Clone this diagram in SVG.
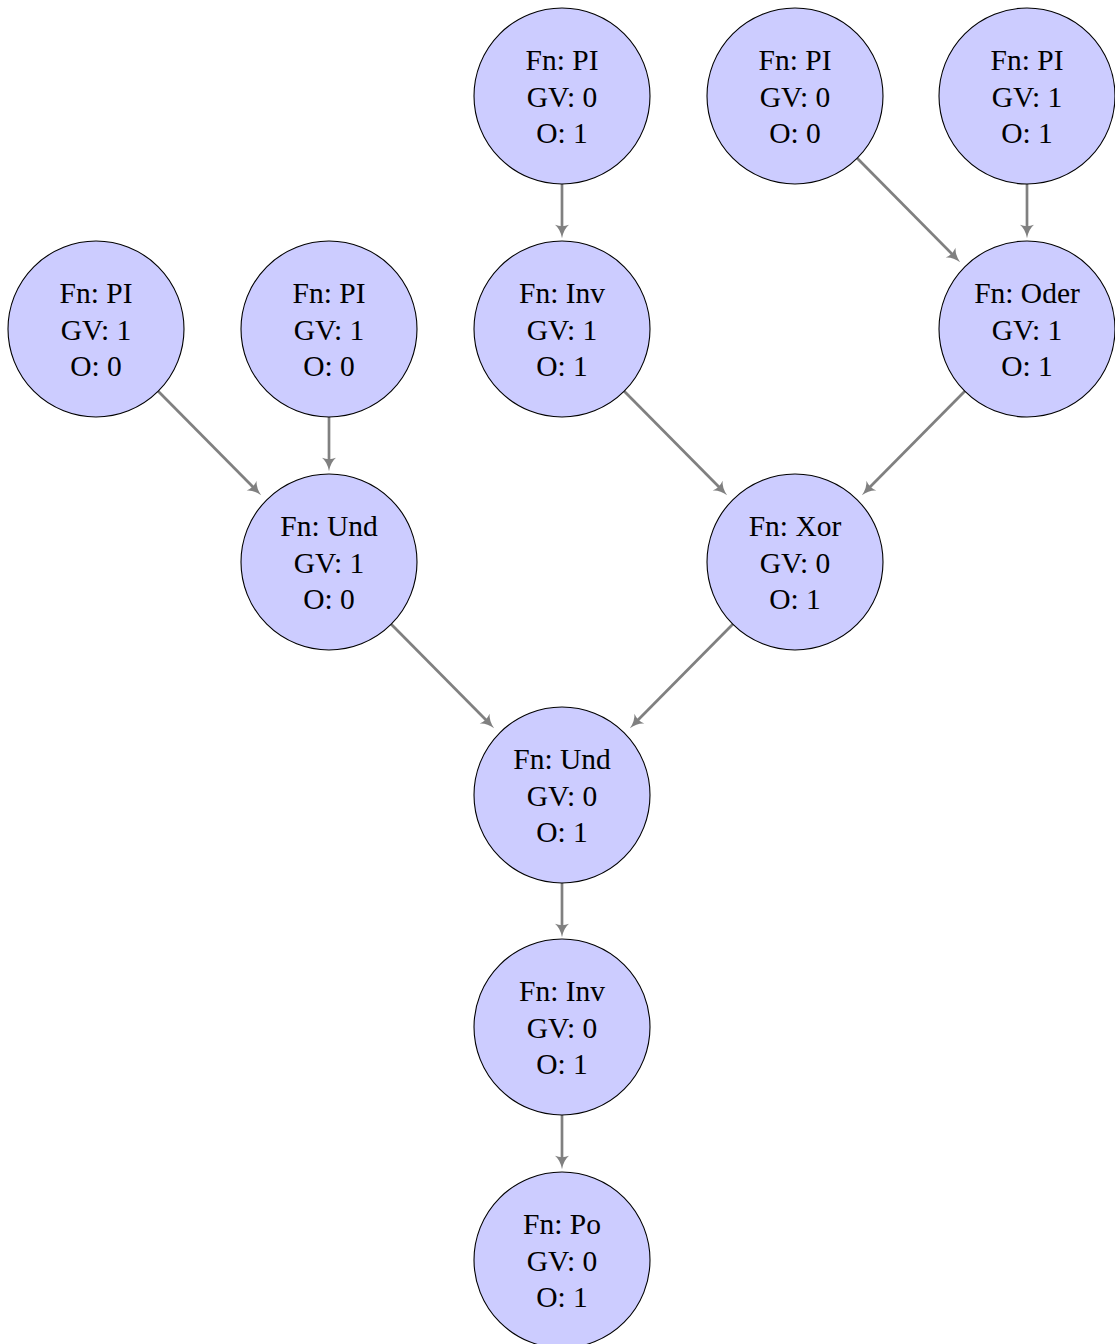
<svg xmlns="http://www.w3.org/2000/svg" width="1115" height="1344" viewBox="0 0 1115 1344">
  <style>
    .node circle { fill: #ccccff; stroke: #000000; stroke-width: 1.1; }
    .node text { font-family: "Liberation Serif", "DejaVu Serif", serif; font-size: 29.5px; fill: #000000; text-anchor: middle; }
    .edge { stroke: #808080; stroke-width: 2.7; fill: none; marker-end: url(#arrow); }
  </style>
  <defs>
    <marker id="arrow" markerUnits="userSpaceOnUse" markerWidth="18" markerHeight="18" viewBox="-2 -8 15 16" refX="5" refY="0" orient="auto">
      <path d="M-0.5,-6.2 Q3.5,-1.4 11.5,0 Q3.5,1.4 -0.5,6.2 Q2,0 -0.5,-6.2 Z" fill="#808080"/>
    </marker>
  </defs>

  <!-- connectors: each line stops where the arrow tip begins -->
  <g id="edges">
    <line class="edge" x1="562" y1="184" x2="562" y2="231"/>
    <line class="edge" x1="857" y1="158" x2="955" y2="257"/>
    <line class="edge" x1="1027" y1="184" x2="1027" y2="231"/>
    <line class="edge" x1="158" y1="391" x2="256" y2="490"/>
    <line class="edge" x1="329" y1="417" x2="329" y2="464"/>
    <line class="edge" x1="624" y1="391" x2="722" y2="490"/>
    <line class="edge" x1="965" y1="391" x2="867" y2="490"/>
    <line class="edge" x1="391" y1="624" x2="489" y2="723"/>
    <line class="edge" x1="733" y1="624" x2="635" y2="723"/>
    <line class="edge" x1="562" y1="883" x2="562" y2="930"/>
    <line class="edge" x1="562" y1="1115" x2="562" y2="1162"/>
  </g>

  <!-- row 0 -->
  <g id="pi-a" class="node">
    <circle cx="562" cy="96" r="88"/>
    <text x="562" y="70">Fn: PI</text><text x="562" y="107">GV: 0</text><text x="562" y="143">O: 1</text>
  </g>
  <g id="pi-b" class="node">
    <circle cx="795" cy="96" r="88"/>
    <text x="795" y="70">Fn: PI</text><text x="795" y="107">GV: 0</text><text x="795" y="143">O: 0</text>
  </g>
  <g id="pi-c" class="node">
    <circle cx="1027" cy="96" r="88"/>
    <text x="1027" y="70">Fn: PI</text><text x="1027" y="107">GV: 1</text><text x="1027" y="143">O: 1</text>
  </g>

  <!-- row 1 -->
  <g id="pi-d" class="node">
    <circle cx="96" cy="329" r="88"/>
    <text x="96" y="303">Fn: PI</text><text x="96" y="340">GV: 1</text><text x="96" y="376">O: 0</text>
  </g>
  <g id="pi-e" class="node">
    <circle cx="329" cy="329" r="88"/>
    <text x="329" y="303">Fn: PI</text><text x="329" y="340">GV: 1</text><text x="329" y="376">O: 0</text>
  </g>
  <g id="inv-a" class="node">
    <circle cx="562" cy="329" r="88"/>
    <text x="562" y="303">Fn: Inv</text><text x="562" y="340">GV: 1</text><text x="562" y="376">O: 1</text>
  </g>
  <g id="oder" class="node">
    <circle cx="1027" cy="329" r="88"/>
    <text x="1027" y="303">Fn: Oder</text><text x="1027" y="340">GV: 1</text><text x="1027" y="376">O: 1</text>
  </g>

  <!-- row 2 -->
  <g id="und-a" class="node">
    <circle cx="329" cy="562" r="88"/>
    <text x="329" y="536">Fn: Und</text><text x="329" y="573">GV: 1</text><text x="329" y="609">O: 0</text>
  </g>
  <g id="xor" class="node">
    <circle cx="795" cy="562" r="88"/>
    <text x="795" y="536">Fn: Xor</text><text x="795" y="573">GV: 0</text><text x="795" y="609">O: 1</text>
  </g>

  <!-- row 3 -->
  <g id="und-b" class="node">
    <circle cx="562" cy="795" r="88"/>
    <text x="562" y="769">Fn: Und</text><text x="562" y="806">GV: 0</text><text x="562" y="842">O: 1</text>
  </g>

  <!-- row 4 -->
  <g id="inv-b" class="node">
    <circle cx="562" cy="1027" r="88"/>
    <text x="562" y="1001">Fn: Inv</text><text x="562" y="1038">GV: 0</text><text x="562" y="1074">O: 1</text>
  </g>

  <!-- row 5 -->
  <g id="po" class="node">
    <circle cx="562" cy="1260" r="88"/>
    <text x="562" y="1234">Fn: Po</text><text x="562" y="1271">GV: 0</text><text x="562" y="1307">O: 1</text>
  </g>
</svg>
